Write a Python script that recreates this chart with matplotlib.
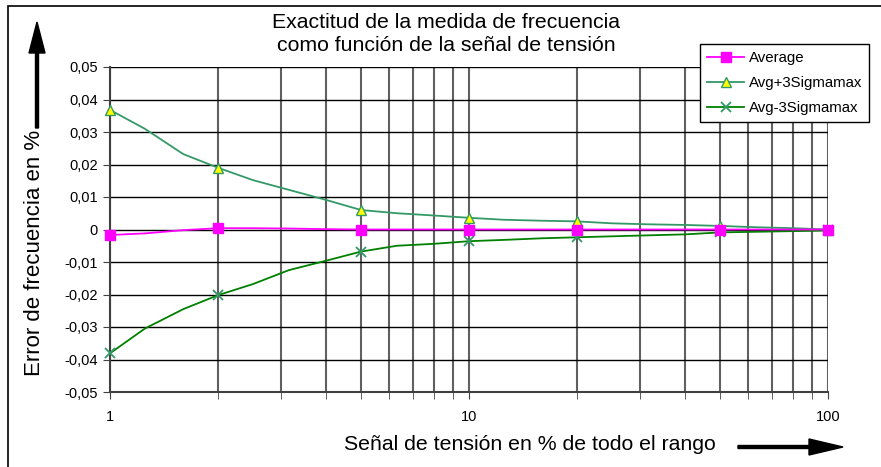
import matplotlib
matplotlib.use("Agg")
import matplotlib.pyplot as plt
import matplotlib.ticker as ticker
from matplotlib.patches import Rectangle, FancyArrow

plt.rcParams['font.family'] = ['Liberation Sans', 'DejaVu Sans']

# data
x = [1, 1.25, 1.6, 2, 2.5, 3.15, 4, 5, 6.3, 8, 10, 12.5, 16, 20, 25, 31.5, 40, 50, 63, 80, 100]
avg = [-0.0017, -0.0012, -0.0002, 0.0004, 0.0004, 0.0003, 0.0001, 0.0, 0.0, 0.0, 0.0,
       0.0, 0.0, 0.0, 0.0, 0.0, 0.0, 0.0, 0.0, 0.0, 0.0]
plus = [0.0368, 0.0310, 0.0232, 0.0190, 0.0152, 0.0122, 0.0091, 0.0060, 0.0050, 0.0043, 0.0036,
        0.0030, 0.0027, 0.0025, 0.0019, 0.0016, 0.0014, 0.0011, 0.0007, 0.0004, 0.0]
minus = [-0.0381, -0.0305, -0.0245, -0.0202, -0.0168, -0.0125, -0.0096, -0.0068, -0.0050, -0.0044, -0.0036,
         -0.0032, -0.0027, -0.0024, -0.0021, -0.0018, -0.0015, -0.0009, -0.0007, -0.0005, -0.0003]
marks = [0, 3, 7, 10, 13, 17, 20]

title = "Exactitud de la medida de frecuencia\ncomo función de la señal de tensión"
xlabel = "Señal de tensión en % de todo el rango"
ylabel = "Error de frecuencia en %"
yticks = [-0.05, -0.04, -0.03, -0.02, -0.01, 0, 0.01, 0.02, 0.03, 0.04, 0.05]

W, H = 881, 467
fig = plt.figure(figsize=(W / 100, H / 100), dpi=100)
ax = fig.add_axes([110 / W, 1 - 392 / H, (828 - 110) / W, (392 - 67) / H])

ax.set_xscale('log')
ax.set_xlim(1, 100)
ax.set_ylim(-0.05, 0.05)

ax.plot(x, avg, color='#FF00FF', lw=1.3, marker='s', markersize=7, markevery=marks, clip_on=False,
        markerfacecolor='#FF00FF', markeredgecolor='#FF00FF', label='Average', zorder=5)
ax.plot(x, plus, color='#339966', lw=1.3, marker='^', markersize=7, markevery=marks, clip_on=False,
        markerfacecolor='#FFFF00', markeredgecolor='#339966', label='Avg+3Sigmamax', zorder=4)
ax.plot(x, minus, color='#008000', lw=1.3, marker='x', markersize=7, markevery=marks, clip_on=False,
        markeredgecolor='#339966', markeredgewidth=1.3, label='Avg-3Sigmamax', zorder=4)

# grid
ax.set_yticks(yticks)
ax.yaxis.set_major_formatter(ticker.FuncFormatter(
    lambda v, p: '0' if abs(v) < 1e-9 else ('%.2f' % v).replace('.', ',')))
ax.xaxis.set_major_locator(ticker.FixedLocator([1, 10, 100]))
ax.xaxis.set_major_formatter(ticker.FuncFormatter(lambda v, p: '%d' % v))
ax.xaxis.set_minor_locator(ticker.LogLocator(base=10, subs=range(2, 10)))
ax.xaxis.set_minor_formatter(ticker.NullFormatter())
ax.grid(axis='y', which='major', color='black', lw=1.0)
ax.grid(axis='x', which='both', color='#606060', lw=1.5)
ax.set_axisbelow(True)

for s in ['top', 'right']:
    ax.spines[s].set_visible(False)
ax.spines['left'].set_color('#404040')
ax.spines['bottom'].set_color('#404040')
ax.spines['left'].set_linewidth(1.5)
ax.spines['bottom'].set_linewidth(1.5)
ax.tick_params(axis='both', which='both', direction='out', length=5, color='#404040',
               labelsize=10.5, pad=4)
ax.tick_params(axis='x', pad=8)

leg = ax.legend(loc='upper left', bbox_to_anchor=(700 / W, 1 - 44 / H), bbox_transform=fig.transFigure,
                fontsize=10.8, frameon=True, fancybox=False, edgecolor='black', framealpha=1,
                handlelength=2.5, borderpad=0.45, labelspacing=0.75, handletextpad=0.3,
                borderaxespad=0)
leg.set_zorder(10)

fig.text(446 / W, 1 - 34 / H, title, ha='center', va='center', fontsize=15.3, linespacing=1.25)
fig.text(530 / W, 1 - 444 / H, xlabel, ha='center', va='center', fontsize=15.3)
fig.text(35 / W, 1 - 253 / H, ylabel, ha='center', va='center', fontsize=16, rotation=90)

# arrows and frame
fig.patches.append(FancyArrow(37 / W, 1 - 128 / H, 0, (128 - 22 - 31) / H, width=3 / W,
                              head_width=16 / W, head_length=31 / H, length_includes_head=False,
                              color='black', transform=fig.transFigure, figure=fig))
fig.patches.append(FancyArrow(738 / W, 1 - 447 / H, (809 - 738) / W, 0, width=3 / H,
                              head_width=16 / H, head_length=34 / W, length_includes_head=False,
                              color='black', transform=fig.transFigure, figure=fig))
fig.patches.append(Rectangle((8 / W, -20 / H), (900 - 8) / W, (467 + 20 - 6) / H, fill=False,
                             edgecolor='black', lw=1.2, transform=fig.transFigure, figure=fig))

fig.savefig('out.png', dpi=100)
